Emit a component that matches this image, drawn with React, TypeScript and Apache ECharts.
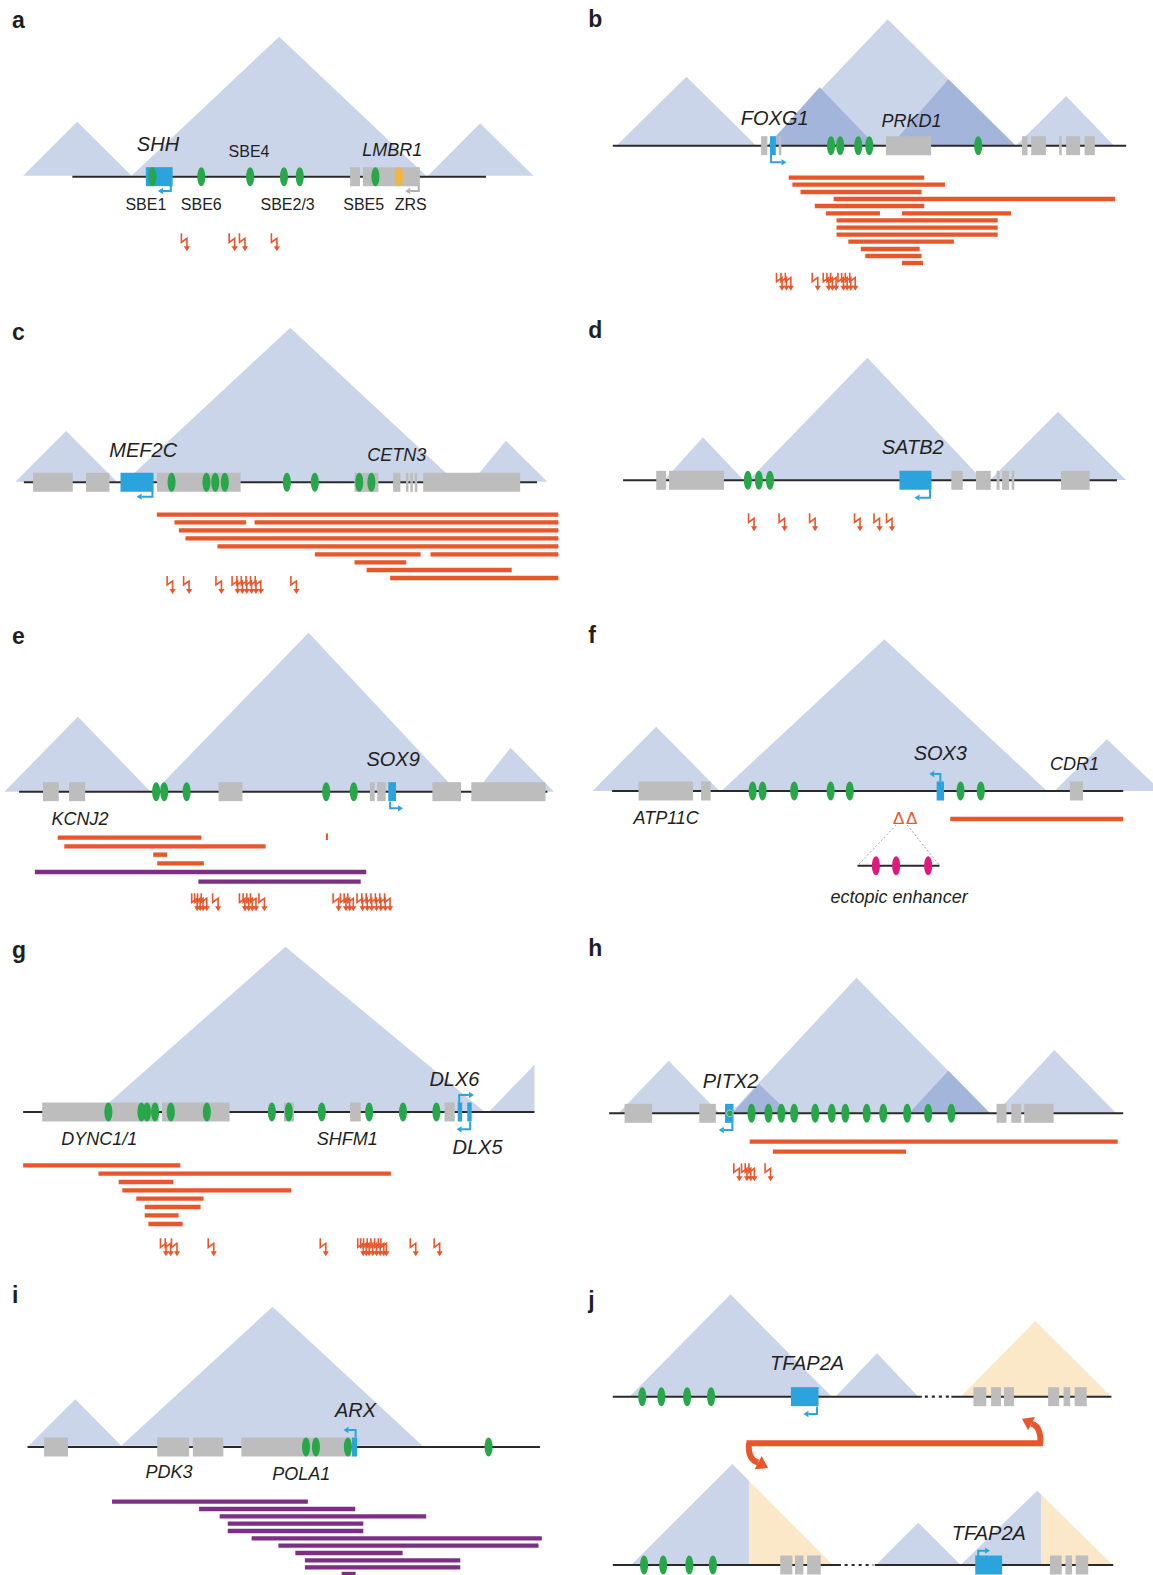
import React, { useEffect, useRef } from "react";
import * as echarts from "echarts";

// ---------------- page & style constants ----------------
const PAGE_W = 1153;
const PAGE_H = 1575;
const X_UNITS = 1568; // genomic axis units across a panel
const FONT = '"Liberation Sans", Arial, Helvetica, sans-serif';
const COL = {
  tad: "#cbd5ea",
  tadDark: "#a4b5db",
  yellow: "#fbe8c9",
  line: "#2a2a2a",
  gray: "#bdbdbd",
  blue: "#2ba3dc",
  green: "#28a74a",
  zrs: "#f5b43a",
  orange: "#e8562b",
  purple: "#7c2f85",
  magenta: "#df1a7e",
  text: "#231f20",
  dash: "#9d9d9d",
};
const TAD_COLORS = [COL.tad, COL.tadDark, COL.yellow];
const PROM_COLORS = [COL.blue, "#b0b0b0"];

// ---------------- panel a : SHH ----------------
const A_TADS = [[63, 358, 210, 365, 527, 0], [358, 1160, 760, 110, 527, 0], [1165, 1452, 1307, 370, 527, 0]];
const A_CHROM = [[197, 1323]];
const A_GRAY = [[953, 980], [988, 1143]];
const A_TARGET = [[397, 470]];
const A_ENH = [415, 548, 681, 773, 816, 1022];
const A_ZRS = [1086];
const A_PROM = [[465, 558, 573, 430, 0], [1140, 558, 573, 1103, 1]];
const A_MUT = [502, 632, 660, 747];
const A_LABELS = [["SHH", 430, 433, 20, 1], ["SBE4", 678, 453, 16, 0], ["LMBR1", 1068, 450, 18, 1], ["SBE1", 397, 613, 16, 0], ["SBE6", 548, 613, 16, 0], ["SBE2/3", 783, 613, 16, 0], ["SBE5", 990, 613, 16, 0], ["ZRS", 1118, 613, 16, 0]];

// ---------------- panel b : FOXG1 ----------------
const B_TADS = [[110, 490, 300, 230, 437, 0], [520, 1195, 847, 58, 437, 0], [1195, 1462, 1332, 288, 437, 0], [520, 815, 662, 262, 437, 1], [855, 1195, 1012, 238, 437, 1]];
const B_CHROM = [[100, 1495]];
const B_GRAY = [[503, 520], [551, 558], [842, 965], [1212, 1227], [1237, 1277], [1313, 1320], [1332, 1370], [1382, 1410]];
const B_TARGET = [[527, 543]];
const B_ENH = [693, 718, 767, 797, 1093];
const B_PROM = [[530, 465, 487, 572, 0]];
const B_DEL = [[533, 578, 946], [554, 588, 1003], [576, 610, 939], [597, 700, 1465], [618, 649, 946], [640, 679, 826], [640, 886, 1182], [661, 708, 1146], [683, 708, 1146], [704, 708, 1146], [725, 740, 1027], [747, 774, 934], [768, 786, 939], [789, 886, 943]];
const B_MUT = [553, 565, 577, 650, 680, 690, 700, 720, 730, 740, 752];
const B_LABELS = [["FOXG1", 540, 355, 20, 1], ["PRKD1", 912, 362, 18, 1]];

// ---------------- panel c : MEF2C ----------------
const C_TADS = [[42, 318, 180, 393, 545, 0], [340, 1240, 790, 83, 545, 0], [1285, 1490, 1377, 422, 545, 0]];
const C_CHROM = [[65, 1462]];
const C_GRAY = [[90, 198], [234, 298], [427, 655], [965, 1030], [1070, 1090], [1105, 1112], [1117, 1124], [1129, 1136], [1152, 1416]];
const C_TARGET = [[328, 418]];
const C_ENH = [467, 562, 586, 612, 781, 857, 978, 1011];
const C_PROM = [[415, 573, 590, 372, 0]];
const C_DEL = [[644, 427, 1520], [667, 475, 670], [667, 693, 1520], [691, 487, 1520], [715, 505, 1520], [739, 592, 1520], [763, 857, 1145], [763, 1172, 1520], [787, 965, 1106], [810, 998, 1393], [834, 1062, 1520]];
const C_MUT = [463, 508, 596, 640, 653, 665, 678, 690, 703, 800];
const C_LABELS = [["MEF2C", 390, 450, 20, 1], ["CETN3", 1080, 465, 18, 1]];

// ---------------- panel d : SATB2 ----------------
const D_TADS = [[240, 455, 345, 412, 540, 0], [470, 1105, 792, 173, 540, 0], [1125, 1495, 1310, 335, 540, 0]];
const D_CHROM = [[128, 1470]];
const D_GRAY = [[218, 245], [253, 402], [1020, 1051], [1087, 1127], [1143, 1151], [1158, 1177], [1184, 1191], [1318, 1396]];
const D_TARGET = [[879, 966]];
const D_ENH = [467, 497, 527];
const D_PROM = [[962, 568, 593, 920, 0]];
const D_MUT = [477, 560, 643, 765, 818, 852];
const D_LABELS = [["SATB2", 915, 440, 20, 1]];

// ---------------- panel e : SOX9 ----------------
const E_TADS = [[12, 410, 212, 350, 575, 0], [420, 1245, 840, 98, 575, 0], [1295, 1508, 1390, 443, 575, 0]];
const E_CHROM = [[52, 1490]];
const E_GRAY = [[117, 160], [188, 232], [595, 660], [1007, 1020], [1027, 1050], [1177, 1255], [1283, 1485]];
const E_TARGET = [[1057, 1078]];
const E_ENH = [425, 447, 508, 888, 963];
const E_PROM = [[1062, 605, 625, 1097, 0]];
const E_DEL = [[713, 157, 548], [739, 175, 723], [764, 417, 455], [790, 428, 555]];
const E_TICK = [[890, 700, 720]];
const E_DUP = [[816, 95, 997], [845, 540, 982]];
const E_MUT = [530, 538, 546, 556, 587, 660, 670, 680, 690, 713, 915, 935, 945, 955, 980, 993, 1005, 1018, 1030, 1042, 1055];
const E_LABELS = [["SOX9", 1070, 478, 20, 1], ["KCNJ2", 218, 657, 18, 1]];

// ---------------- panel f : SOX3 ----------------
const F_TADS = [[45, 390, 218, 380, 573, 0], [395, 1280, 838, 118, 573, 0], [1300, 1590, 1443, 418, 573, 0]];
const F_CHROM = [[98, 1487]];
const F_GRAY = [[170, 318], [340, 366], [1342, 1378]];
const F_TARGET = [[980, 1000]];
const F_ENH = [480, 507, 593, 692, 744, 1045, 1100];
const F_PROM = [[990, 545, 522, 960, 0]];
const F_DEL = [[657, 1017, 1487]];
const F_DELTA = [877, 912];
const F_DASH = [[870, 675, 765, 797], [900, 675, 988, 797]];
const F_SUB_CHROM = [[765, 988]];
const F_ECTOPIC = [815, 870, 957];
const F_LABELS = [["SOX3", 990, 458, 20, 1], ["CDR1", 1355, 493, 18, 1], ["ATP11C", 245, 655, 18, 1], ["ectopic enhancer", 878, 890, 18, 1]];

// ---------------- panel g : DLX5/DLX6 ----------------
const G_TADS = [[268, 1320, 777, 80, 576, 0], [1330, 1620, 1475, 412, 576, 0, 0, 1455]];
const G_CHROM = [[63, 1455]];
const G_GRAY = [[115, 432], [441, 625], [773, 800], [953, 982], [1210, 1238]];
const G_TARGET = [[1246, 1258], [1272, 1284]];
const G_ENH = [295, 385, 400, 422, 465, 563, 740, 786, 876, 1005, 1097, 1188];
const G_PROM = [[1250, 548, 525, 1290, 0], [1280, 605, 628, 1243, 0]];
const G_DEL = [[736, 63, 491], [761, 268, 1064], [786, 323, 472], [811, 333, 793], [836, 371, 554], [861, 394, 546], [886, 394, 486], [912, 404, 497]];
const G_MUT = [445, 458, 475, 575, 880, 982, 990, 998, 1008, 1018, 1028, 1038, 1045, 1125, 1190];
const G_LABELS = [["DLX6", 1237, 478, 20, 1], ["DLX5", 1300, 680, 20, 1], ["DYNC1/1", 270, 657, 18, 1], ["SHFM1", 945, 657, 18, 1]];

// ---------------- panel h : PITX2 ----------------
const H_TADS = [[115, 390, 252, 422, 580, 0], [420, 1125, 762, 173, 580, 0], [1140, 1468, 1300, 390, 580, 0], [425, 580, 497, 492, 580, 1], [905, 1125, 1012, 452, 580, 1]];
const H_CHROM = [[90, 1487]];
const H_GRAY = [[132, 207], [335, 380], [1143, 1170], [1183, 1210], [1218, 1298]];
const H_TARGET = [[405, 428]];
const H_ENH = [477, 523, 558, 593, 650, 695, 732, 790, 835, 900, 957, 1020];
const H_DOT = [[418, 580]];
const H_PROM = [[425, 608, 630, 388, 0]];
const H_DEL = [[665, 472, 1472], [695, 535, 897]];
const H_MUT = [437, 458, 468, 478, 522];
const H_LABELS = [["PITX2", 420, 482, 20, 1]];

// ---------------- panel i : ARX ----------------
const I_TADS = [[78, 330, 205, 388, 527, 0], [330, 1150, 742, 110, 527, 0]];
const I_CHROM = [[75, 1470]];
const I_GRAY = [[120, 185], [428, 515], [525, 608], [657, 957]];
const I_TARGET = [[958, 972]];
const I_ENH = [833, 860, 947, 1330];
const I_PROM = [[968, 502, 480, 935, 0]];
const I_DUP = [[695, 305, 838], [717, 542, 967], [739, 598, 1160], [761, 620, 989], [783, 620, 989], [805, 685, 1475], [827, 758, 1466], [849, 804, 1096], [871, 830, 1253], [892, 830, 1253], [912, 930, 968]];
const I_LABELS = [["ARX", 968, 420, 20, 1], ["PDK3", 460, 607, 18, 1], ["POLA1", 820, 612, 18, 1]];

// ---------------- panel j : TFAP2A inversion ----------------
const J_TADS = [
  [145, 695, 420, 73, 380, 0], [705, 930, 818, 250, 380, 0], [1045, 1455, 1248, 153, 380, 2],
  [150, 698, 425, 582, 885, 0, 0, 470], [150, 698, 425, 582, 885, 2, 470, 1568],
  [815, 1045, 930, 758, 885, 0],
  [1045, 1459, 1253, 662, 885, 0, 0, 1265], [1045, 1459, 1253, 662, 885, 2, 1265, 1568],
];
const J_TOP_CHROM = [[100, 940], [1020, 1455]];
const J_TOP_GAP = [[948, 1015]];
const J_TOP_GRAY = [[1080, 1115], [1128, 1155], [1163, 1190], [1283, 1313], [1325, 1343], [1355, 1388]];
const J_TOP_TARGET = [[584, 659]];
const J_TOP_ENH = [180, 232, 302, 367];
const J_BOT_CHROM = [[100, 720], [812, 1460]];
const J_BOT_GAP = [[730, 808]];
const J_BOT_GRAY = [[555, 588], [595, 618], [628, 665], [1288, 1320], [1330, 1348], [1358, 1392]];
const J_BOT_TARGET = [[1085, 1158]];
const J_BOT_ENH = [185, 237, 308, 372];
const J_PROM = [[655, 410, 432, 618, 0], [1093, 862, 842, 1125, 0]];
const J_ARROW_BAR = [470, 1262, 520];
const J_ARROW_RIGHT = [1262, 520, 1264, 470, 1238, 461, 1212, 446];
const J_ARROW_LEFT = [470, 520, 466, 568, 495, 578, 522, 594];
const J_LABELS = [["TFAP2A", 628, 280, 20, 1], ["TFAP2A", 1122, 788, 20, 1]];

// ---------------- layout ----------------
type Row = { y: number; chrom: number[][]; gap?: number[][]; gray?: number[][]; target?: number[][]; enh?: number[]; zrs?: number[]; ectopic?: number[] };
type Panel = {
  letter: string; letterY: number; box: number[]; tads: number[][]; rows: Row[];
  proms?: number[][]; dels?: number[][]; dups?: number[][]; ticks?: number[][]; muts?: number[]; mutY?: number;
  labels: any[]; dots?: number[][]; dashes?: number[][]; deltas?: number[]; deltaY?: number; curve?: boolean;
};

const PANELS: Panel[] = [
  { letter: "a", letterY: 60, box: [0, 0, 576, 300], tads: A_TADS, rows: [{ y: 530, chrom: A_CHROM, gray: A_GRAY, target: A_TARGET, enh: A_ENH, zrs: A_ZRS }], proms: A_PROM, muts: A_MUT, mutY: 700, labels: A_LABELS },
  { letter: "b", letterY: 57, box: [576, 0, 577, 300], tads: B_TADS, rows: [{ y: 437, chrom: B_CHROM, gray: B_GRAY, target: B_TARGET, enh: B_ENH }], proms: B_PROM, dels: B_DEL, muts: B_MUT, mutY: 818, labels: B_LABELS },
  { letter: "c", letterY: 95, box: [0, 300, 576, 300], tads: C_TADS, rows: [{ y: 547, chrom: C_CHROM, gray: C_GRAY, target: C_TARGET, enh: C_ENH }], proms: C_PROM, dels: C_DEL, muts: C_MUT, mutY: 828, labels: C_LABELS },
  { letter: "d", letterY: 90, box: [576, 300, 577, 300], tads: D_TADS, rows: [{ y: 541, chrom: D_CHROM, gray: D_GRAY, target: D_TARGET, enh: D_ENH }], proms: D_PROM, muts: D_MUT, mutY: 640, labels: D_LABELS },
  { letter: "e", letterY: 108, box: [0, 600, 576, 320], tads: E_TADS, rows: [{ y: 575, chrom: E_CHROM, gray: E_GRAY, target: E_TARGET, enh: E_ENH }], proms: E_PROM, dels: E_DEL, dups: E_DUP, ticks: E_TICK, muts: E_MUT, mutY: 880, labels: E_LABELS },
  { letter: "f", letterY: 105, box: [576, 600, 577, 320], tads: F_TADS, rows: [{ y: 573, chrom: F_CHROM, gray: F_GRAY, target: F_TARGET, enh: F_ENH }, { y: 797, chrom: F_SUB_CHROM, ectopic: F_ECTOPIC }], proms: F_PROM, dels: F_DEL, dashes: F_DASH, deltas: F_DELTA, deltaY: 655, labels: F_LABELS },
  { letter: "g", letterY: 90, box: [0, 920, 576, 340], tads: G_TADS, rows: [{ y: 576, chrom: G_CHROM, gray: G_GRAY, target: G_TARGET, enh: G_ENH }], proms: G_PROM, dels: G_DEL, muts: G_MUT, mutY: 955, labels: G_LABELS },
  { letter: "h", letterY: 85, box: [576, 920, 577, 340], tads: H_TADS, rows: [{ y: 580, chrom: H_CHROM, gray: H_GRAY, target: H_TARGET, enh: H_ENH }], proms: H_PROM, dels: H_DEL, muts: H_MUT, mutY: 730, labels: H_LABELS, dots: H_DOT },
  { letter: "i", letterY: 75, box: [0, 1270, 576, 305], tads: I_TADS, rows: [{ y: 531, chrom: I_CHROM, gray: I_GRAY, target: I_TARGET, enh: I_ENH }], proms: I_PROM, dups: I_DUP, labels: I_LABELS },
  { letter: "j", letterY: 90, box: [576, 1270, 577, 305], tads: J_TADS, rows: [
      { y: 380, chrom: J_TOP_CHROM, gap: J_TOP_GAP, gray: J_TOP_GRAY, target: J_TOP_TARGET, enh: J_TOP_ENH },
      { y: 885, chrom: J_BOT_CHROM, gap: J_BOT_GAP, gray: J_BOT_GRAY, target: J_BOT_TARGET, enh: J_BOT_ENH },
    ], proms: J_PROM, labels: J_LABELS, curve: true },
];

type Item = { k: string; v: number[]; c?: string; s?: string; size?: number; it?: boolean; bold?: boolean };

function buildItems(p: Panel): Item[] {
  const out: Item[] = [];
  p.tads.forEach((t) => out.push({ k: "tad", v: [t[0], t[1], t[2], t[3], t[4], t[5], t[6] ?? -1e6, t[7] ?? X_UNITS] }));
  (p.dashes || []).forEach((d) => out.push({ k: "dash", v: d }));
  p.rows.forEach((r) => {
    r.chrom.forEach((c) => out.push({ k: "line", v: [c[0], r.y, c[1]] }));
    (r.gap || []).forEach((c) => out.push({ k: "gap", v: [c[0], r.y, c[1]] }));
  });
  p.rows.forEach((r) => {
    (r.gray || []).forEach((g) => out.push({ k: "box", v: [g[0], r.y, g[1]], c: COL.gray }));
    (r.target || []).forEach((g) => out.push({ k: "box", v: [g[0], r.y, g[1]], c: COL.blue }));
    (r.enh || []).forEach((x) => out.push({ k: "ell", v: [x, r.y], c: COL.green }));
    (r.zrs || []).forEach((x) => out.push({ k: "ell", v: [x, r.y], c: COL.zrs }));
    (r.ectopic || []).forEach((x) => out.push({ k: "ell", v: [x, r.y], c: COL.magenta }));
  });
  (p.dots || []).forEach((d) => out.push({ k: "dot", v: d }));
  (p.proms || []).forEach((q) => out.push({ k: "prom", v: q, c: PROM_COLORS[q[4]] }));
  (p.dels || []).forEach((d) => out.push({ k: "bar", v: [d[1], d[0], d[2]], c: COL.orange }));
  (p.dups || []).forEach((d) => out.push({ k: "bar", v: [d[1], d[0], d[2]], c: COL.purple }));
  (p.ticks || []).forEach((d) => out.push({ k: "vtick", v: d, c: COL.orange }));
  (p.muts || []).forEach((x) => out.push({ k: "mut", v: [x, p.mutY as number] }));
  (p.deltas || []).forEach((x) => out.push({ k: "text", v: [x, p.deltaY as number], s: "\u0394", size: 17, it: false, c: COL.orange }));
  if (p.curve) out.push({ k: "curve", v: [...J_ARROW_BAR, ...J_ARROW_RIGHT, ...J_ARROW_LEFT] });
  p.labels.forEach((l) => out.push({ k: "text", v: [l[1], l[2]], s: l[0], size: l[3], it: l[4] === 1, c: COL.text }));
  out.push({ k: "letter", v: [33, p.letterY], s: p.letter, size: 23, bold: true, c: COL.text });
  return out;
}

function clipX(pts: number[][], lo: number, hi: number): number[][] {
  const clip = (poly: number[][], inside: (p: number[]) => boolean, X: number) => {
    const res: number[][] = [];
    for (let i = 0; i < poly.length; i++) {
      const cur = poly[i];
      const prev = poly[(i + poly.length - 1) % poly.length];
      const ci = inside(cur), pi = inside(prev);
      const inter = () => {
        const t = (X - prev[0]) / (cur[0] - prev[0]);
        return [X, prev[1] + t * (cur[1] - prev[1])];
      };
      if (ci) {
        if (!pi) res.push(inter());
        res.push(cur);
      } else if (pi) res.push(inter());
    }
    return res;
  };
  let r = clip(pts, (q) => q[0] >= lo, lo);
  if (r.length) r = clip(r, (q) => q[0] <= hi, hi);
  return r;
}

function arrowHead(base: number[], tip: number[], half: number) {
  const dx = tip[0] - base[0], dy = tip[1] - base[1];
  const len = Math.hypot(dx, dy) || 1;
  const nx = -dy / len, ny = dx / len;
  return [tip, [base[0] + nx * half, base[1] + ny * half], [base[0] - nx * half, base[1] - ny * half]];
}

function makeRender(items: Item[]) {
  return (params: any, api: any) => {
    const it = items[params.dataIndex];
    const v = it.v;
    const P = (x: number, y: number) => api.coord([x, y]);
    const empty = { type: "group", children: [] as any[] };
    switch (it.k) {
      case "tad": {
        const pts = clipX([[v[0], v[4]], [v[2], v[3]], [v[1], v[4]]], v[6], v[7]);
        if (pts.length < 3) return empty;
        return { type: "polygon", shape: { points: pts.map((q) => P(q[0], q[1])) }, style: { fill: TAD_COLORS[v[5]] } };
      }
      case "line": {
        const a = P(v[0], v[1]), b = P(v[2], v[1]);
        return { type: "line", shape: { x1: a[0], y1: a[1], x2: b[0], y2: b[1] }, style: { stroke: COL.line, lineWidth: 2 } };
      }
      case "gap": {
        const a = P(v[0], v[1]), b = P(v[2], v[1]);
        return { type: "line", shape: { x1: a[0], y1: a[1], x2: b[0], y2: b[1] }, style: { stroke: COL.line, lineWidth: 2.2, lineDash: [3, 4] } };
      }
      case "dash": {
        const a = P(v[0], v[1]), b = P(v[2], v[3]);
        return { type: "line", shape: { x1: a[0], y1: a[1], x2: b[0], y2: b[1] }, style: { stroke: COL.dash, lineWidth: 0.9, lineDash: [2, 2] } };
      }
      case "box": {
        const a = P(v[0], v[1]), b = P(v[2], v[1]);
        return { type: "rect", shape: { x: a[0], y: a[1] - 9.5, width: Math.max(b[0] - a[0], 1.5), height: 19 }, style: { fill: it.c } };
      }
      case "ell": {
        const a = P(v[0], v[1]);
        return { type: "ellipse", shape: { cx: a[0], cy: a[1], rx: 4, ry: 9.5 }, style: { fill: it.c } };
      }
      case "dot": {
        const a = P(v[0], v[1]);
        return { type: "circle", shape: { cx: a[0], cy: a[1], r: 3.3 }, style: { fill: COL.green, stroke: "#bfe6c9", lineWidth: 0.8 } };
      }
      case "prom": {
        const a = P(v[0], v[1]), b = P(v[0], v[2]), c = P(v[3], v[2]);
        const dir = Math.sign(c[0] - b[0]) || 1;
        const baseX = c[0] - dir * 5;
        return {
          type: "group",
          children: [
            { type: "polyline", shape: { points: [a, b, [baseX, b[1]]] }, style: { stroke: it.c, lineWidth: 2, fill: null } },
            { type: "polygon", shape: { points: [[c[0], c[1]], [baseX, c[1] - 3.2], [baseX, c[1] + 3.2]] }, style: { fill: it.c } },
          ],
        };
      }
      case "bar": {
        const a = P(v[0], v[1]), b = P(v[2], v[1]);
        return { type: "rect", shape: { x: a[0], y: a[1] - 2.2, width: b[0] - a[0], height: 4.4 }, style: { fill: it.c } };
      }
      case "vtick": {
        const a = P(v[0], v[1]), b = P(v[0], v[2]);
        return { type: "rect", shape: { x: a[0] - 1, y: a[1], width: 2, height: b[1] - a[1] }, style: { fill: it.c } };
      }
      case "mut": {
        const a = P(v[0], v[1]);
        const ox = a[0] - 3, oy = a[1];
        return {
          type: "group",
          children: [
            { type: "polyline", shape: { points: [[ox, oy], [ox, oy + 9], [ox + 5.5, oy + 5], [ox + 5.5, oy + 14]] }, style: { stroke: COL.orange, lineWidth: 1.6, fill: null } },
            { type: "polygon", shape: { points: [[ox + 2.4, oy + 13], [ox + 8.6, oy + 13], [ox + 5.5, oy + 18]] }, style: { fill: COL.orange } },
          ],
        };
      }
      case "curve": {
        const bar1 = P(v[0], v[2]), bar2 = P(v[1], v[2]);
        const r0 = P(v[3], v[4]), rc = P(v[5], v[6]), r1 = P(v[7], v[8]), rt = P(v[9], v[10]);
        const l0 = P(v[11], v[12]), lc = P(v[13], v[14]), l1 = P(v[15], v[16]), lt = P(v[17], v[18]);
        const st = { stroke: COL.orange, lineWidth: 6, fill: null as any };
        return {
          type: "group",
          children: [
            { type: "line", shape: { x1: bar1[0] - 2.5, y1: bar1[1], x2: bar2[0] + 2.5, y2: bar2[1] }, style: st },
            { type: "bezierCurve", shape: { x1: r0[0], y1: r0[1], cpx1: rc[0], cpy1: rc[1], x2: r1[0], y2: r1[1] }, style: st },
            { type: "bezierCurve", shape: { x1: l0[0], y1: l0[1], cpx1: lc[0], cpy1: lc[1], x2: l1[0], y2: l1[1] }, style: st },
            { type: "polygon", shape: { points: arrowHead(r1, rt, 7.5) }, style: { fill: COL.orange } },
            { type: "polygon", shape: { points: arrowHead(l1, lt, 7.5) }, style: { fill: COL.orange } },
          ],
        };
      }
      case "text": {
        const a = P(v[0], v[1]);
        return {
          type: "text",
          x: a[0],
          y: a[1],
          style: { text: it.s, fill: it.c, fontSize: it.size, fontFamily: FONT, fontStyle: it.it ? "italic" : "normal", fontWeight: "normal", align: "center", verticalAlign: "middle" },
        };
      }
      case "letter": {
        const a = P(v[0], v[1]);
        return {
          type: "text",
          x: a[0],
          y: a[1],
          style: { text: it.s, fill: it.c, fontSize: it.size, fontFamily: FONT, fontWeight: "bold", align: "left", verticalAlign: "middle" },
        };
      }
    }
    return empty;
  };
}

function buildOption() {
  const grids: any[] = [], xAxes: any[] = [], yAxes: any[] = [], series: any[] = [];
  PANELS.forEach((p, i) => {
    const [left, top, width, height] = p.box;
    grids.push({ left, top, width, height, containLabel: false, outerBoundsMode: "none" });
    xAxes.push({ type: "value", gridIndex: i, min: 0, max: X_UNITS, show: false });
    yAxes.push({ type: "value", gridIndex: i, min: 0, max: height * 3, inverse: true, show: false });
    const items = buildItems(p);
    series.push({
      type: "custom",
      name: "panel " + p.letter,
      xAxisIndex: i,
      yAxisIndex: i,
      clip: false,
      silent: true,
      animation: false,
      data: items.map((it) => [it.v[0], it.v[1]]),
      renderItem: makeRender(items),
    });
  });
  return { animation: false, backgroundColor: "#ffffff", grid: grids, xAxis: xAxes, yAxis: yAxes, series };
}

export default function App() {
  const ref = useRef<HTMLDivElement>(null);
  useEffect(() => {
    if (!ref.current) return;
    const chart = echarts.init(ref.current, null, { renderer: "svg" });
    chart.setOption(buildOption() as any);
    return () => chart.dispose();
  }, []);
  return <div ref={ref} style={{ position: "absolute", left: 0, top: 0, width: PAGE_W, height: PAGE_H, background: "#fff" }} />;
}
